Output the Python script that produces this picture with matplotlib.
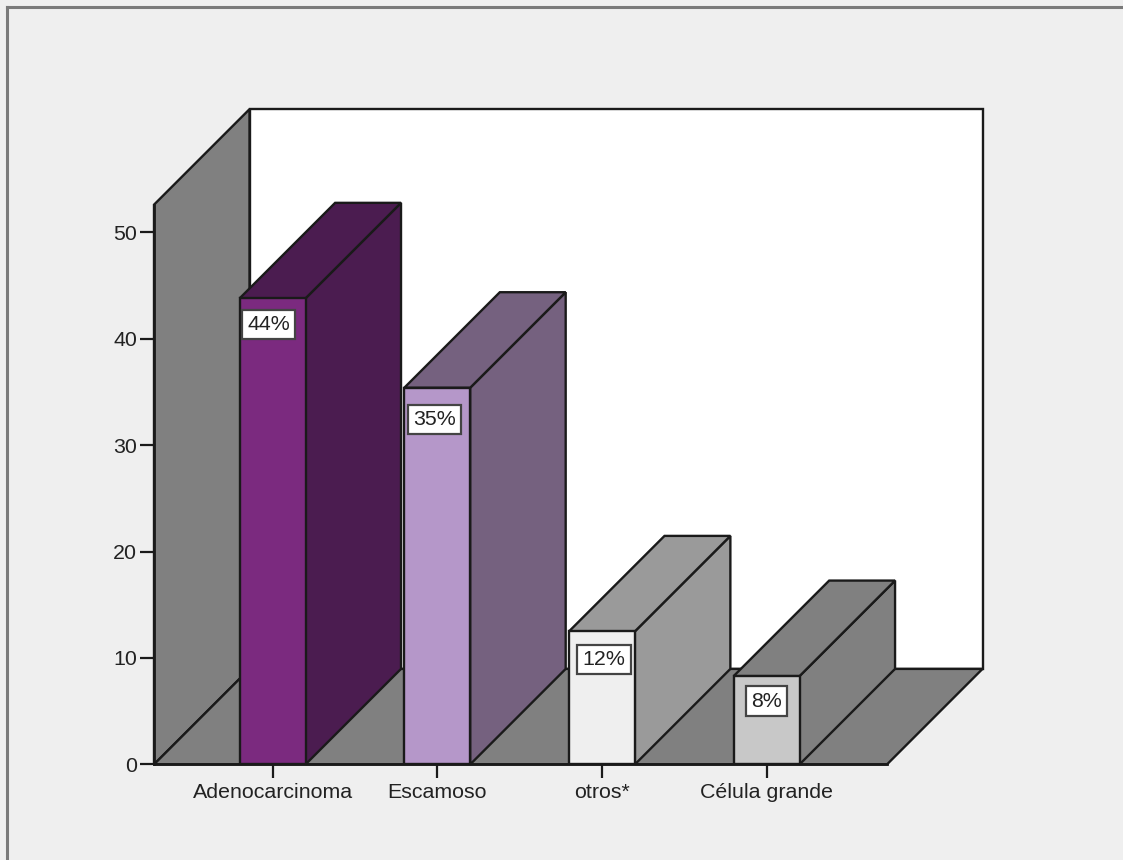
import matplotlib

matplotlib.use("Agg")
import matplotlib.pyplot as plt
from matplotlib.lines import Line2D
from matplotlib.patches import Polygon
import numpy as np

categories = ["Adenocarcinoma", "Escamoso", "otros*", "Célula grande"]
valores = [43.8, 35.4, 12.5, 8.3]
y_ticks = [0, 10, 20, 30, 40, 50]

front_colors = ["#7b2a7f", "#b597c9", "#efefef", "#c8c8c8"]
side_colors = ["#4b1c50", "#75617f", "#9a9a9a", "#808080"]
# label box position relative to the top centre of each bar, in pixels
label_offsets = [(-4, -26), (-3, -32), (2, -28), (0, -25)]

W, H = 1123, 860
BG = "#efefef"
WALL = "#808080"
LINE = "#1a1a1a"
DEPTH_PX = 95.5
LW = 1.7

plt.rcParams["font.family"] = ["Liberation Sans", "DejaVu Sans"]
plt.rcParams["font.size"] = 15.4


def add_poly(ax, pts, color, z, edge=LINE):
    ax.add_patch(
        Polygon(pts, closed=True, facecolor=color, edgecolor=edge, linewidth=LW,
                joinstyle="miter", clip_on=False, zorder=z)
    )


fig = plt.figure(figsize=(W / 100, H / 100), dpi=100, facecolor=BG)
ax = fig.add_axes([154 / W, (H - 764.4) / H, (887 - 154) / W, 559.7 / H])
ax.patch.set_visible(False)
x_pos = np.arange(len(categories))
x0, x1 = -0.72, 3.731
y0, y1 = 0, 52.6
ax.set_xlim(x0, x1)
ax.set_ylim(y0, y1)

# depth of the oblique projection, converted to data units
dx = DEPTH_PX * (x1 - x0) / (887 - 154)
dy = DEPTH_PX * (y1 - y0) / 559.7

# walls and floor
add_poly(ax, [(x0 + dx, y0 + dy), (x1 + dx, y0 + dy), (x1 + dx, y1 + dy), (x0 + dx, y1 + dy)], "white", 1)
add_poly(ax, [(x0, y0), (x0 + dx, y0 + dy), (x0 + dx, y1 + dy), (x0, y1)], WALL, 2)
add_poly(ax, [(x0, y0), (x1, y0), (x1 + dx, y0 + dy), (x0 + dx, y0 + dy)], WALL, 2)

# bars, front face plus side and top
bar_w = 0.4
for i, (x, v) in enumerate(zip(x_pos, valores)):
    left, right = x - bar_w / 2, x + bar_w / 2
    z = 3 + i
    add_poly(ax, [(right, 0), (right + dx, dy), (right + dx, v + dy), (right, v)], side_colors[i], z)
    add_poly(ax, [(left, v), (right, v), (right + dx, v + dy), (left + dx, v + dy)], side_colors[i], z)
    ax.bar(x, v, width=bar_w, color=front_colors[i], edgecolor=LINE, linewidth=LW, zorder=z)
    ax.annotate(
        f"{v:.0f}%",
        xy=(x, v),
        xytext=(label_offsets[i][0] * 0.72, label_offsets[i][1] * 0.72),
        textcoords="offset points",
        ha="center",
        va="center",
        color="#222222",
        zorder=z + 0.5,
        bbox=dict(boxstyle="square,pad=0.24", facecolor="white", edgecolor="#444444", linewidth=1.6),
    )

ax.set_xticks(x_pos)
ax.set_xticklabels(categories)
ax.set_yticks(y_ticks)
ax.tick_params(axis="both", length=10, width=1.6, color=LINE, labelcolor="#222222")
ax.tick_params(axis="x", pad=3.5)
ax.tick_params(axis="y", pad=2)
for name in ["top", "right"]:
    ax.spines[name].set_visible(False)
for name in ["left", "bottom"]:
    ax.spines[name].set_color(LINE)
    ax.spines[name].set_linewidth(LW + 0.3)
    ax.spines[name].set_zorder(10)

# outer frame, top and left only
for xs, ys in [((7, W), (7, 7)), ((7, 7), (7, H))]:
    fig.add_artist(
        Line2D([p / W for p in xs], [1 - p / H for p in ys], color="#7a7a7a", linewidth=2.2)
    )

fig.savefig("out.png", dpi=100, facecolor=BG)
